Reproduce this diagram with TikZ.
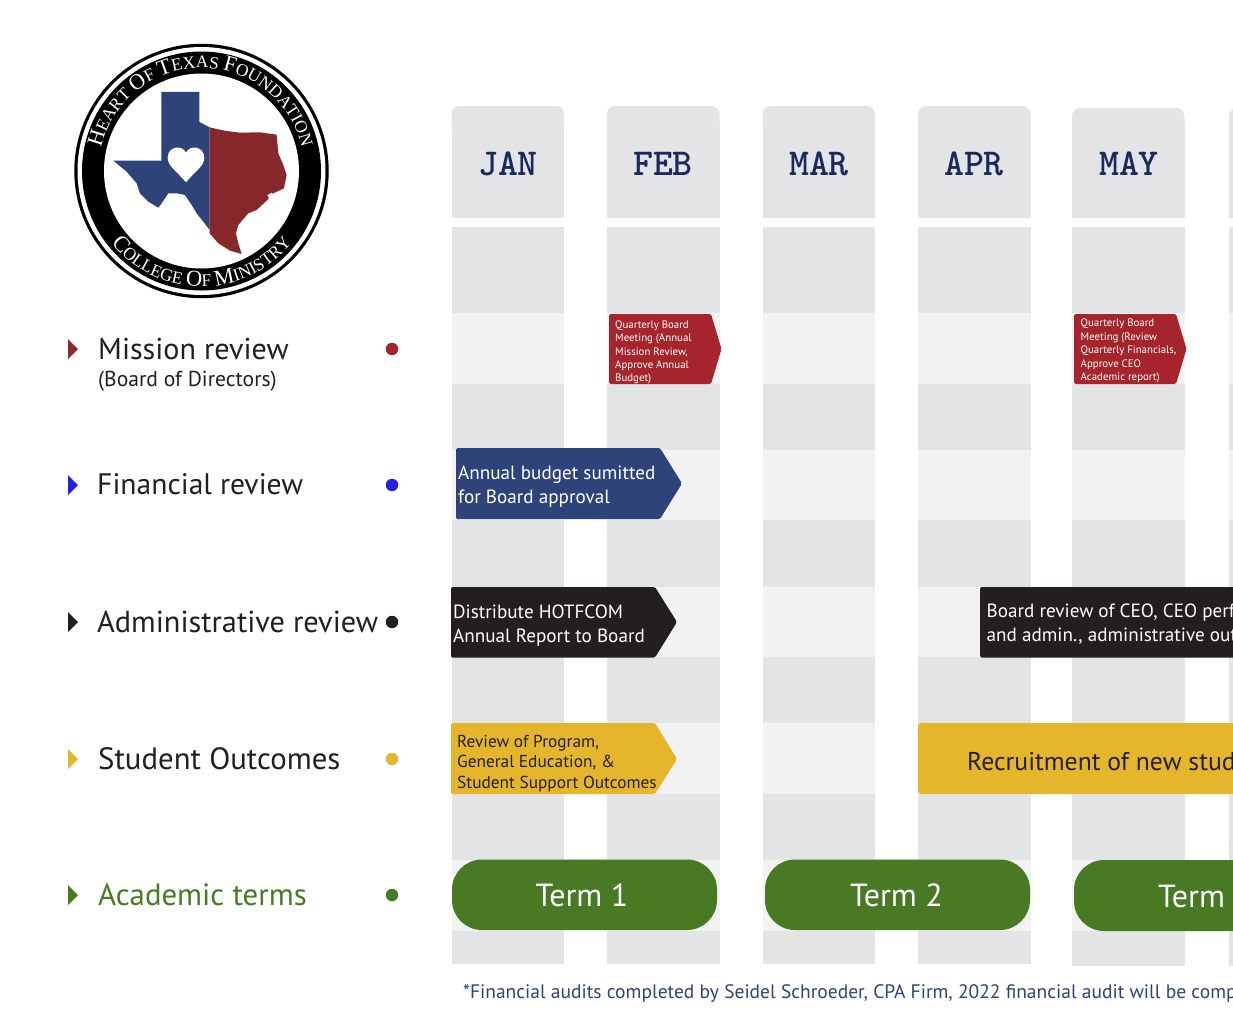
\documentclass[tikz,border=0pt]{standalone}
\usepackage{fontspec}
\setmainfont{PT Sans}
\newfontfamily\seriff{Liberation Serif}[Ligatures=TeX]
\usetikzlibrary{decorations.text}
\definecolor{colbg}{HTML}{E3E4E6}
\definecolor{bandbg}{HTML}{F2F2F2}
\definecolor{cred}{HTML}{A6252D}
\definecolor{cblue}{HTML}{2D4379}
\definecolor{cblack}{HTML}{231F20}
\definecolor{cyellow}{HTML}{E5B52B}
\definecolor{cgreen}{HTML}{477A22}
\definecolor{navy}{HTML}{1B2A5C}
\definecolor{txred}{HTML}{8E2A2E}
\definecolor{txblue}{HTML}{2D4379}
\definecolor{dotblue}{HTML}{2222E0}
\tikzset{
  month/.style={font=\ttfamily\bfseries\fontsize{38}{38}\selectfont,text=navy,anchor=center,inner sep=0},
  rowlabel/.style={anchor=west,inner sep=0,text=cblack},
  dotmark/.style={circle,minimum size=12.5pt,inner sep=0},
  marker/.style={line join=round,line width=.5pt},
  smalltxt/.style={font=\fontsize{10.85}{13.4}\selectfont,text=white,align=left,anchor=west,inner sep=0},
  midtxt/.style={font=\fontsize{19.15}{23.5}\selectfont,align=left,anchor=west,inner sep=0},
  bigtxt/.style={font=\fontsize{25.7}{26}\selectfont,anchor=center,inner sep=0},
  termtxt/.style={font=\fontsize{32}{32}\selectfont,text=white,anchor=center,inner sep=0},
}
\newcommand{\colstrip}[3]{%
  \fill[colbg,rounded corners=8pt] (#1,#2) rectangle (#1+112.5,#2+30);
  \fill[colbg] (#1,#2+15) rectangle (#1+112.5,218);
  \fill[colbg] (#1,227) rectangle (#1+112.5,#3);
  \foreach \bt/\bb in {313/384,450/520,587/657,723/794,860/931}
    \fill[bandbg] (#1,\bt) rectangle (#1+112.5,\bb);
}
\begin{document}
\begin{tikzpicture}[x=1pt,y=-1pt]
\useasboundingbox (0,0) rectangle (1233,1034);
\clip (0,0) rectangle (1233,1034);
\fill[white] (0,0) rectangle (1233,1034);
% columns
\colstrip{451.5}{106}{964}
\colstrip{607}{106}{964}
\colstrip{762.5}{106}{964}
\colstrip{918}{106}{964}
\colstrip{1072}{108}{966}
\colstrip{1229}{108}{966}
\node[month] (jan) at (508,163.5) {JAN};
\node[month] (feb) at (663,163.5) {FEB};
\node[month] (mar) at (819,163.5) {MAR};
\node[month] (apr) at (974,163.5) {APR};
\node[month] (may) at (1129,163.5) {MAY};
% seal
\fill[black] (201.5,171) circle (127.2);
\fill[white] (201.5,171) circle (124);
\fill[black] (201.5,171) circle (119.5);
\fill[white] (201.5,171) circle (97.5);
\path[decorate,decoration={text along path,text align=center,text color=white,
  text={|\seriff\fontsize{22}{22}\selectfont|H|\seriff\fontsize{17.5}{17.5}\selectfont|EART |\seriff\fontsize{22}{22}\selectfont|O|\seriff\fontsize{17.5}{17.5}\selectfont|F |\seriff\fontsize{22}{22}\selectfont|T|\seriff\fontsize{17.5}{17.5}\selectfont|EXAS |\seriff\fontsize{22}{22}\selectfont|F|\seriff\fontsize{17.5}{17.5}\selectfont|OUNDATION}}]
  (201.5,171) ++(-176:103) arc[start angle=-176,end angle=-4,radius=103];
\path[decorate,decoration={text along path,text align=center,text color=white,
  text={|\seriff\fontsize{22.5}{22.5}\selectfont|C|\seriff\fontsize{17.5}{17.5}\selectfont|OLLEGE |\seriff\fontsize{22.5}{22.5}\selectfont|O|\seriff\fontsize{17.5}{17.5}\selectfont|F |\seriff\fontsize{22.5}{22.5}\selectfont|M|\seriff\fontsize{17.5}{17.5}\selectfont|INISTRY}}]
  (201.5,171) ++(150:115.5) arc[start angle=150,end angle=30,radius=115.5];
\begin{scope}[shift={(60,30)},x=.3333pt,y=-.3333pt]
\fill[cblue] (304,186) -- (418,186) -- (418,276) -- (430,282) -- (449,292) -- (449,600) -- (430,575) -- (410,550) -- (395,525) -- (375,495) -- (350,490) -- (325,490) -- (305,520) -- (295,533) -- (265,515) -- (240,490) -- (230,460) -- (200,425) -- (160,392) -- (304,392) -- cycle;
\fill[txred!95!black] (449,292) -- (470,297) -- (500,303) -- (540,308) -- (600,307) -- (650,314) -- (655,370) -- (670,405) -- (680,435) -- (672,475) -- (640,490) -- (622,510) -- (590,540) -- (565,550) -- (535,585) -- (528,610) -- (535,640) -- (545,672) -- (510,662) -- (475,640) -- (449,610) -- cycle;
\fill[white] (378,457) .. controls (352,425) and (322,408) .. (323,382) .. controls (324,350) and (365,342) .. (378,368) .. controls (391,342) and (432,350) .. (433,382) .. controls (434,408) and (404,425) .. (378,457) -- cycle;
\fill[white] (622,495) -- (636,488) -- (640,498) -- (630,510) -- cycle;
\end{scope}
% legend rows
\fill[txred,marker] (68,339) -- (78,349) -- (68,359) -- cycle;
\fill[dotblue,marker] (68,475) -- (78,485) -- (68,495) -- cycle;
\fill[cblack,marker] (68,612) -- (78,622) -- (68,632) -- cycle;
\fill[cyellow,marker] (68,749) -- (78,759) -- (68,769) -- cycle;
\fill[cgreen,marker] (68,885) -- (78,895) -- (68,905) -- cycle;
\node[rowlabel,font=\fontsize{30.1}{30}\selectfont] (lmission) at (98,349) {Mission review};
\node[rowlabel,font=\fontsize{21.6}{22}\selectfont] (lboard) at (98,381) {(Board of Directors)};
\node[rowlabel,font=\fontsize{29.6}{30}\selectfont] (lfin) at (97,484) {Financial review};
\node[rowlabel,font=\fontsize{30.3}{30}\selectfont] (ladmin) at (97,622) {Administrative review};
\node[rowlabel,font=\fontsize{30.8}{30}\selectfont] (lstud) at (98,759) {Student Outcomes};
\node[rowlabel,font=\fontsize{30.8}{30}\selectfont,text=cgreen] (lacad) at (98,895) {Academic terms};
\node[dotmark,fill=cred] (d1) at (392,349) {};
\node[dotmark,fill=dotblue] (d2) at (392,485) {};
\node[dotmark,fill=cblack] (d3) at (392,622) {};
\node[dotmark,fill=cyellow] (d4) at (392,759) {};
\node[dotmark,fill=cgreen] (d5) at (392,895) {};
% arrows
\fill[cred,rounded corners=1.5pt] (609,314) -- (711,314) -- (721.5,349) -- (711,384) -- (609,384) -- cycle;
\node[smalltxt] (q1) at (615,352.5) {Quarterly Board\\Meeting (Annual\\Mission Review,\\Approve Annual\\Budget)};
\fill[cred,rounded corners=1.5pt] (1074,314) -- (1176,314) -- (1186.5,349) -- (1176,384) -- (1074,384) -- cycle;
\node[smalltxt] (q2) at (1080.5,351) {Quarterly Board\\Meeting (Review\\Quarterly Financials,\\Approve CEO\\Academic report)};
\fill[cblue,rounded corners=1.5pt] (456,448) -- (660,448) -- (682,483.5) -- (660,519) -- (456,519) -- cycle;
\node[midtxt,text=white] (fin) at (458,486.5) {Annual budget sumitted\\for Board approval};
\fill[cblack,rounded corners=1.5pt] (451,587) -- (655,587) -- (677,622) -- (655,657.5) -- (451,657.5) -- cycle;
\node[midtxt,text=white] (adm) at (453,625.5) {Distribute HOTFCOM\\Annual Report to Board};
\fill[cblack,rounded corners=2pt] (980,587) rectangle (1245,657.5);
\node[midtxt,text=white] (adm2) at (986.5,624) {Board review of CEO, CEO perf\\and admin., administrative out};
\fill[cyellow,rounded corners=1.5pt] (451,723) -- (655,723) -- (677,759) -- (655,794) -- (451,794) -- cycle;
\node[font=\fontsize{17.3}{20.8}\selectfont,align=left,anchor=west,inner sep=0,text=cblack] (rev) at (457,763.5) {Review of Program,\\General Education, \&\\Student Support Outcomes};
\fill[cyellow,rounded corners=3pt] (918,723) rectangle (1245,794);
\node[bigtxt,anchor=west,text=cblack] (rec) at (967,761.5) {Recruitment of new stud};
% terms
\fill[cgreen,rounded corners=30pt] (452,859.5) rectangle (717,930);
\node[termtxt] (t1) at (582,895) {Term 1};
\fill[cgreen,rounded corners=30pt] (765,859.5) rectangle (1030,930);
\node[termtxt] (t2) at (896.5,895) {Term 2};
\fill[cgreen,rounded corners=30pt] (1074,860) rectangle (1339,931);
\node[termtxt,anchor=west] (t3) at (1158,896) {Term};
\node[font=\fontsize{19.5}{20}\selectfont,anchor=west,inner sep=0,text=txblue] (foot) at (463,994) {*Financial audits completed by Seidel Schroeder, CPA Firm, 2022 financial audit will be comp};
\end{tikzpicture}
\end{document}
